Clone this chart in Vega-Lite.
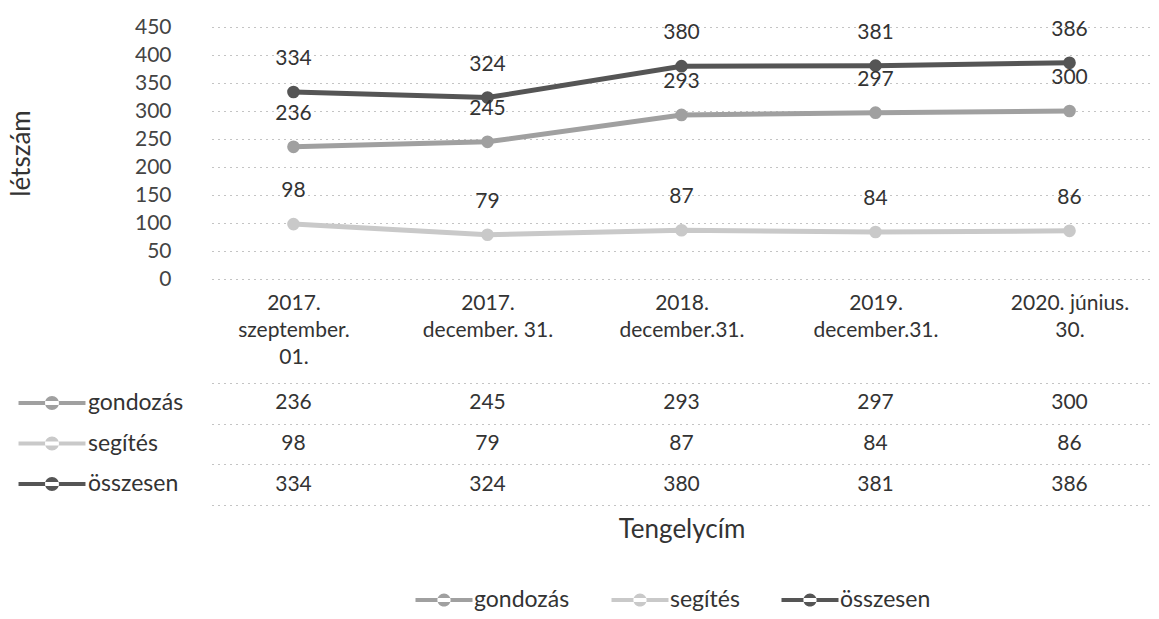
{
  "$schema": "https://vega.github.io/schema/vega-lite/v6.json",
  "padding": {"left": 8, "top": 16, "right": 6, "bottom": 0},
  "spacing": 16,
  "background": "white",
  "data": {"values": [
    {"date": "2017.|szeptember.|01.", "series": "gondozás", "value": 236},
    {"date": "2017.|december. 31.", "series": "gondozás", "value": 245},
    {"date": "2018.|december.31.", "series": "gondozás", "value": 293},
    {"date": "2019.|december.31.", "series": "gondozás", "value": 297},
    {"date": "2020. június.|30.", "series": "gondozás", "value": 300},
    {"date": "2017.|szeptember.|01.", "series": "segítés", "value": 98},
    {"date": "2017.|december. 31.", "series": "segítés", "value": 79},
    {"date": "2018.|december.31.", "series": "segítés", "value": 87},
    {"date": "2019.|december.31.", "series": "segítés", "value": 84},
    {"date": "2020. június.|30.", "series": "segítés", "value": 86},
    {"date": "2017.|szeptember.|01.", "series": "összesen", "value": 334},
    {"date": "2017.|december. 31.", "series": "összesen", "value": 324},
    {"date": "2018.|december.31.", "series": "összesen", "value": 380},
    {"date": "2019.|december.31.", "series": "összesen", "value": 381},
    {"date": "2020. június.|30.", "series": "összesen", "value": 386}
  ]},
  "vconcat": [
    {
      "width": 939,
      "height": 252,
      "encoding": {
        "x": {"field": "date", "type": "ordinal", "sort": null,
          "scale": {"type": "point", "padding": 0.42},
          "axis": {"title": null, "labelAngle": 0, "labelExpr": "split(datum.label, '|')", "labelBaseline": "middle", "labelPadding": 24, "ticks": false, "domain": false, "labelFontSize": 21, "labelLineHeight": 27, "labelColor": "#333", "labelOverlap": false, "grid": false}},
        "y": {"field": "value", "type": "quantitative",
          "scale": {"domain": [0, 450]},
          "axis": {"values": [0, 50, 100, 150, 200, 250, 300, 350, 400, 450], "title": "létszám", "titleFontSize": 26, "titleFontWeight": "normal", "titleColor": "#333", "titlePadding": 100, "labelPadding": 41, "labelFontSize": 21, "labelColor": "#444", "ticks": false, "domain": false, "grid": true, "gridDash": [1, 5], "gridColor": "#888", "gridWidth": 1}}
      },
      "layer": [
        {
          "mark": {"type": "line", "strokeWidth": 5, "point": {"size": 160, "filled": true}},
          "encoding": {
            "color": {"field": "series", "type": "nominal", "legend": null,
              "scale": {"domain": ["gondozás", "segítés", "összesen"], "range": ["#a0a0a0", "#c9c9c9", "#555555"]}}
          }
        },
        {
          "mark": {"type": "text", "dy": -33, "fontSize": 21, "color": "#333", "baseline": "middle"},
          "encoding": {"text": {"field": "value", "type": "quantitative"}}
        }
      ]
    },
    {
      "width": 939,
      "height": 122,
      "encoding": {
        "x": {"field": "date", "type": "ordinal", "sort": null,
          "scale": {"type": "point", "padding": 0.42},
          "axis": {"title": "Tengelycím", "titleFontSize": 26, "titleFontWeight": "normal", "titleColor": "#333", "titlePadding": 11, "labels": false, "ticks": false, "domain": false, "grid": false}},
        "y": {"field": "series", "type": "nominal", "sort": ["gondozás", "segítés", "összesen"],
          "scale": {"type": "band", "paddingInner": 0, "paddingOuter": 0},
          "axis": {"title": null, "labels": false, "ticks": false, "domain": false, "grid": true, "tickBand": "extent", "gridDash": [1, 5], "gridColor": "#888"}}
      },
      "layer": [
        {
          "mark": {"type": "text", "fontSize": 21, "color": "#333", "baseline": "middle"},
          "encoding": {"text": {"field": "value", "type": "quantitative"}}
        },
        {
          "mark": {"type": "point", "size": 0, "filled": true},
          "encoding": {
            "color": {"field": "series", "type": "nominal",
              "scale": {"domain": ["gondozás", "segítés", "összesen"], "range": ["#a0a0a0", "#c9c9c9", "#555555"]},
              "legend": {"orient": "bottom", "direction": "horizontal", "title": null, "offset": 46, "symbolType": "M-2.375,-0.17L2.375,-0.17L2.375,0.17L-2.375,0.17Z M-0.55,0A0.55,0.55,0,1,0,0.55,0A0.55,0.55,0,1,0,-0.55,0Z", "symbolSize": 576, "symbolStrokeWidth": 0, "symbolOpacity": 1, "labelOffset": 18, "labelFontSize": 23, "labelColor": "#333", "columnPadding": 41}}
          }
        },
        {
          "mark": {"type": "point", "size": 0, "filled": true},
          "encoding": {
            "fill": {"field": "series", "type": "nominal",
              "scale": {"domain": ["gondozás", "segítés", "összesen"], "range": ["#a0a0a0", "#c9c9c9", "#555555"]},
              "legend": {"orient": "left", "direction": "vertical", "title": null, "offset": 20, "padding": 8, "symbolType": "M-2.79,-0.17L2.79,-0.17L2.79,0.17L-2.79,0.17Z M-0.58,0A0.58,0.58,0,1,0,0.58,0A0.58,0.58,0,1,0,-0.58,0Z", "symbolSize": 576, "symbolStrokeWidth": 0, "symbolOpacity": 1, "labelOffset": 24, "labelFontSize": 23, "labelColor": "#333", "rowPadding": 16.5}}
          }
        }
      ],
      "resolve": {"scale": {"color": "independent", "fill": "independent"}}
    }
  ],
  "resolve": {"scale": {"color": "independent", "x": "independent", "y": "independent"}, "legend": {"color": "independent"}},
  "config": {
    "font": "Lato",
    "view": {"stroke": null},
    "legend": {"layout": {"bottom": {"anchor": "middle"}}}
  }
}
